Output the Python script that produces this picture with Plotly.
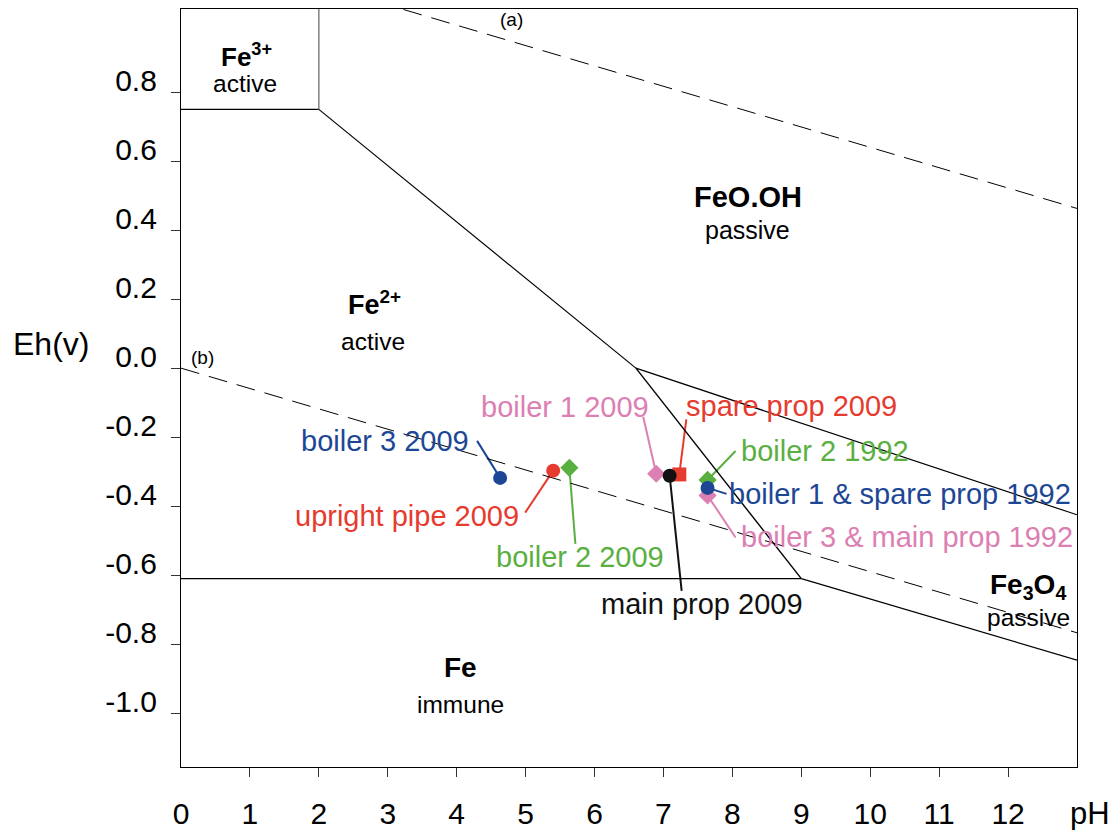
import plotly.graph_objects as go

# ---------------- data ----------------
sample_labels = ["boiler 3 2009", "upright pipe 2009", "boiler 2 2009", "boiler 1 2009",
                 "spare prop 2009", "main prop 2009", "boiler 2 1992",
                 "boiler 3 & main prop 1992", "boiler 1 & spare prop 1992"]
sample_ph = [4.63, 5.40, 5.635, 6.895, 7.23, 7.09, 7.64, 7.64, 7.64]
sample_eh = [-0.318, -0.297, -0.289, -0.306, -0.308, -0.312, -0.324, -0.369, -0.347]

BLUE = "#1d4795"
RED = "#e63b2f"
GREEN = "#5aaf41"
PINK = "#dc7fb3"
BLACK = "#111111"
sample_colors = [BLUE, RED, GREEN, PINK, RED, BLACK, GREEN, PINK, BLUE]
sample_symbols = ["circle", "circle", "diamond", "diamond", "square", "circle",
                  "diamond", "diamond", "circle"]

# stability-field boundaries (pH, Eh)
fe3_fe2_ph, fe3_fe2_eh = [0, 2], [0.75, 0.75]
fe3_feooh_ph, fe3_feooh_eh = [2, 2], [0.75, 1.10]
fe2_feooh_ph, fe2_feooh_eh = [2, 6.6], [0.75, 0.0]
fe2_fe3o4_ph, fe2_fe3o4_eh = [6.6, 9.0], [0.0, -0.61]
feooh_fe3o4_ph, feooh_fe3o4_eh = [6.6, 13.0], [0.0, -0.425]
fe2_fe_ph, fe2_fe_eh = [0, 9.0], [-0.61, -0.61]
fe_fe3o4_ph, fe_fe3o4_eh = [9.0, 13.0], [-0.61, -0.846]
water_a_ph, water_a_eh = [0, 13.0], [1.23, 0.463]
water_b_ph, water_b_eh = [0, 13.0], [0.0, -0.767]

x_ticks = list(range(0, 13))
y_ticks = [0.8, 0.6, 0.4, 0.2, 0.0, -0.2, -0.4, -0.6, -0.8, -1.0]
y_ticktext = ["0.8", "0.6", "0.4", "0.2", "0.0", "-0.2", "-0.4", "-0.6", "-0.8", "-1.0"]

# label placement (screen px relative to marker): leader end, text anchor
label_layout = {
    "boiler 3 2009": ((-23, -37), (-29, -37), "right"),
    "upright pipe 2009": ((-28, 42), (-32, 45), "right"),
    "boiler 2 2009": ((6, 76), (11, 89), "center"),
    "boiler 1 2009": ((-13, -57), (-5, -67), "right"),
    "spare prop 2009": ((7, -55), (5, -68), "left"),
    "main prop 2009": ((12, 115), (32, 128), "center"),
    "boiler 2 1992": ((28, -29), (31, -29), "left"),
    "boiler 3 & main prop 1992": ((28, 42), (31, 42), "left"),
    "boiler 1 & spare prop 1992": ((19, 6), (19, 6), "left"),
}

FONT = "Liberation Sans, Arial, Helvetica, sans-serif"

fig = go.Figure()

def add_line(xs, ys, color="black", width=1.2, dash=None):
    fig.add_trace(go.Scatter(x=xs, y=ys, mode="lines",
                             line=dict(color=color, width=width, dash=dash),
                             hoverinfo="skip", showlegend=False))

add_line(fe3_fe2_ph, fe3_fe2_eh)
add_line(fe3_feooh_ph, fe3_feooh_eh, color="#777777", width=1.4)
add_line(fe2_feooh_ph, fe2_feooh_eh)
add_line(fe2_fe3o4_ph, fe2_fe3o4_eh, width=1.4)
add_line(feooh_fe3o4_ph, feooh_fe3o4_eh)
add_line(fe2_fe_ph, fe2_fe_eh)
add_line(fe_fe3o4_ph, fe_fe3o4_eh)
add_line(water_a_ph, water_a_eh, width=1.0, dash="19px,10px")
add_line(water_b_ph, water_b_eh, width=1.0, dash="19px,10px")

shapes = []
annotations = []
for lab, ph, eh, col in zip(sample_labels, sample_ph, sample_eh, sample_colors):
    (ldx, ldy), (tdx, tdy), xanc = label_layout[lab]
    shapes.append(dict(type="line", xref="x", yref="y",
                       xsizemode="pixel", ysizemode="pixel",
                       xanchor=ph, yanchor=eh, x0=0, y0=0, x1=ldx, y1=-ldy,
                       line=dict(color=col, width=2), layer="below"))
    annotations.append(dict(x=ph, y=eh, xref="x", yref="y", text=lab,
                            showarrow=False, xshift=tdx, yshift=-tdy,
                            xanchor=xanc, yanchor="middle",
                            font=dict(family=FONT, size=29, color=col)))

for ph, eh, col, sym in zip(sample_ph, sample_eh, sample_colors, sample_symbols):
    fig.add_trace(go.Scatter(x=[ph], y=[eh], mode="markers",
                             marker=dict(color=col, size=14, symbol=sym,
                                         line=dict(width=0)),
                             hoverinfo="skip", showlegend=False))

# region labels
def region(text, x, y, size, bold=False, anchor="middle"):
    annotations.append(dict(x=x, y=y, xref="x", yref="y",
                            text=f"<b>{text}</b>" if bold else text,
                            showarrow=False, xanchor="center", yanchor=anchor,
                            font=dict(family=FONT, size=size, color="black")))

region("Fe<sup>3+</sup>", 0.954, 0.852, 26, True, "bottom")
region("active", 0.935, 0.825, 24.5)
region("Fe<sup>2+</sup>", 2.81, 0.134, 27, True, "bottom")
region("active", 2.78, 0.078, 24.5)
region("FeO.OH", 8.22, 0.4965, 29, True)
region("passive", 8.22, 0.40, 25)
region("Fe<sub>3</sub>O<sub>4</sub>", 12.29, -0.6335, 28, True)
region("passive", 12.30, -0.7226, 24.5)
region("Fe", 4.06, -0.869, 28, True)
region("immune", 4.06, -0.975, 24.5)
region("(a)", 4.79, 1.01, 19)
region("(b)", 0.31, 0.032, 19)

# axis titles
annotations.append(dict(x=0, y=0.07, xref="paper", yref="y", text="Eh(v)",
                        showarrow=False, xshift=-130, xanchor="center", yanchor="middle",
                        font=dict(family=FONT, size=32, color="black")))
annotations.append(dict(x=1, y=0, xref="paper", yref="paper", text="pH",
                        showarrow=False, xshift=13, yshift=-46,
                        xanchor="center", yanchor="middle",
                        font=dict(family=FONT, size=31, color="black")))

# the page body has an 8px default margin: size the figure to fill 1118x830
fig.update_layout(
    width=1110, height=823,
    margin=dict(l=173, r=41, t=1, b=64),
    paper_bgcolor="white", plot_bgcolor="white",
    shapes=shapes, annotations=annotations,
    font=dict(family=FONT, color="black"),
)
fig.update_xaxes(range=[0, 13], tickmode="array", tickvals=x_ticks,
                 ticktext=[str(v) for v in x_ticks],
                 ticks="", showgrid=False, zeroline=False,
                 showline=True, linecolor="black", linewidth=1.3, mirror=True,
                 tickfont=dict(family=FONT, size=30, color="black"),
                 ticklabelstandoff=20,
                 minor=dict(tickmode="array", tickvals=x_ticks[1:], ticks="outside",
                            ticklen=9, tickwidth=1, tickcolor="#333333", showgrid=False))
fig.update_yaxes(range=[-1.156, 1.041], tickmode="array", tickvals=y_ticks,
                 ticktext=y_ticktext, ticks="outside", ticklen=9, tickwidth=1,
                 tickcolor="#333333", showgrid=False, zeroline=False,
                 showline=True, linecolor="black", linewidth=1.3, mirror=True,
                 tickfont=dict(family=FONT, size=30, color="black"),
                 ticklabelshift=-12, ticklabelstandoff=8)

fig.write_html("out.html")
